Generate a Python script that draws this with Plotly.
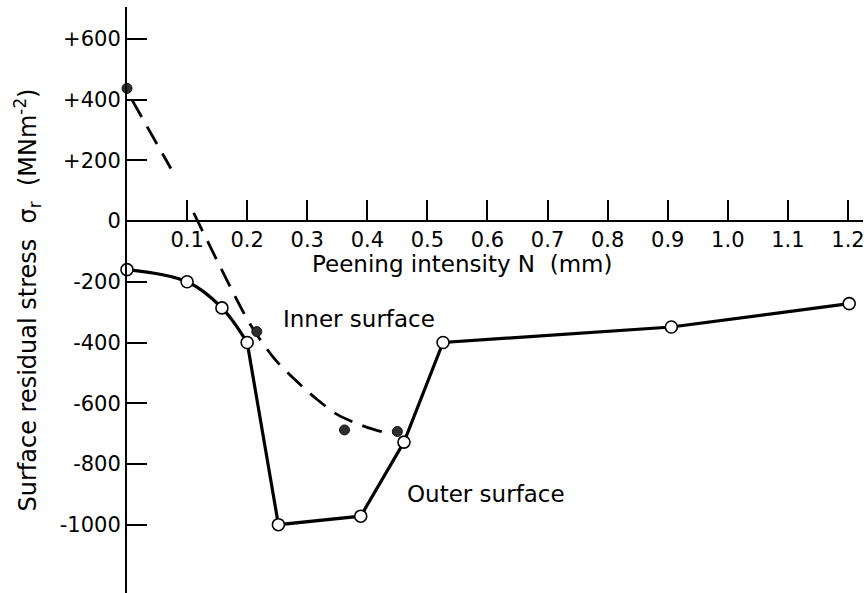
import plotly.graph_objects as go

# Outer surface measurements (open circles)
outer_x = [0.0, 0.10, 0.158, 0.20, 0.252, 0.389, 0.461, 0.526, 0.906, 1.202]
outer_y = [-160, -200, -286, -400, -1000, -972, -728, -400, -349, -272]
# The first four points are joined by a smooth curve, the rest by straight segments
n_smooth = 4

# Inner surface measurements (filled circles)
inner_x = [0.0, 0.216, 0.362, 0.450]
inner_y = [437, -364, -688, -693]

# Hand-drawn trend through the inner surface data (None leaves a break)
trend_x = [0.008, 0.073, None, 0.111, 0.160, 0.205, 0.246, 0.282, 0.316, 0.349, 0.388, 0.432, 0.451]
trend_y = [400, 173, None, 27, -170, -340, -455, -527, -587, -636, -671, -697, -695]

x_ticks = [0.1, 0.2, 0.3, 0.4, 0.5, 0.6, 0.7, 0.8, 0.9, 1.0, 1.1, 1.2]
x_ticktext = ["0.1", "0.2", "0.3", "0.4", "0.5", "0.6", "0.7", "0.8", "0.9", "1.0", "1.1", "1.2"]
y_ticks = [600, 400, 200, 0, -200, -400, -600, -800, -1000]
y_ticktext = ["+600", "+400", "+200", "0", "-200", "-400", "-600", "-800", "-1000"]

X_RANGE = [0, 1.225]
Y_RANGE = [-1225, 705]

FONT = "DejaVu Sans"
INK = "black"

fig = go.Figure()

# Inner surface trend (dashed)
fig.add_trace(go.Scatter(
    x=trend_x, y=trend_y, mode="lines", connectgaps=False,
    line=dict(color=INK, width=2.8, dash="20px,11px", shape="spline", smoothing=0.8),
    hoverinfo="skip", showlegend=False,
))

# Outer surface line: smooth start, then straight segments
fig.add_trace(go.Scatter(
    x=outer_x[:n_smooth], y=outer_y[:n_smooth], mode="lines",
    line=dict(color=INK, width=3.2, shape="spline", smoothing=1.0),
    hoverinfo="skip", showlegend=False,
))
fig.add_trace(go.Scatter(
    x=outer_x[n_smooth - 1:], y=outer_y[n_smooth - 1:], mode="lines",
    line=dict(color=INK, width=3.2),
    hoverinfo="skip", showlegend=False,
))

# Markers
fig.add_trace(go.Scatter(
    x=outer_x, y=outer_y, mode="markers",
    marker=dict(symbol="circle", size=12, color="white", line=dict(color=INK, width=1.6)),
    name="Outer surface", showlegend=False, cliponaxis=False,
))
fig.add_trace(go.Scatter(
    x=inner_x, y=inner_y, mode="markers",
    marker=dict(symbol="circle", size=10, color="#2e2e2e", line=dict(color="#111111", width=1)),
    name="Inner surface", showlegend=False, cliponaxis=False,
))

# x axis sits on the zero-stress line
zero_pos = (0 - Y_RANGE[0]) / (Y_RANGE[1] - Y_RANGE[0])

fig.update_layout(
    width=868, height=593,
    margin=dict(l=127, r=5, t=7, b=0),
    paper_bgcolor="white", plot_bgcolor="white",
    font=dict(family=FONT, color=INK, size=21),
    showlegend=False,
    xaxis=dict(
        range=X_RANGE, anchor="free", position=zero_pos,
        showgrid=False, zeroline=False,
        showline=True, linecolor=INK, linewidth=2,
        ticks="inside", ticklen=20, tickwidth=1.5, tickcolor=INK,
        tickvals=x_ticks, ticktext=x_ticktext,
        tickfont=dict(family=FONT, size=21, color=INK),
        fixedrange=True,
    ),
    yaxis=dict(
        range=Y_RANGE,
        showgrid=False, zeroline=False,
        showline=True, linecolor=INK, linewidth=2,
        ticks="inside", ticklen=20, tickwidth=1.5, tickcolor=INK,
        tickvals=y_ticks, ticktext=y_ticktext,
        tickfont=dict(family=FONT, size=21, color=INK),
        title=dict(
            text="Surface residual stress  σ<sub>r</sub>  (MNm<sup>-2</sup>)",
            font=dict(family=FONT, size=24, color=INK),
            standoff=16,
        ),
        automargin=False,
        fixedrange=True,
    ),
    annotations=[
        dict(x=0.257, y=-322, xref="x", yref="y", text="Inner surface",
             showarrow=False, xanchor="left", yanchor="middle",
             font=dict(family=FONT, size=23, color=INK)),
        dict(x=0.4626, y=-899, xref="x", yref="y", text="Outer surface",
             showarrow=False, xanchor="left", yanchor="middle",
             font=dict(family=FONT, size=23, color=INK)),
        dict(x=0.557, y=-140, xref="x", yref="y", text="Peening intensity N  (mm)",
             showarrow=False, xanchor="center", yanchor="middle",
             font=dict(family=FONT, size=23, color=INK)),
    ],
)

fig.write_html("out.html")
